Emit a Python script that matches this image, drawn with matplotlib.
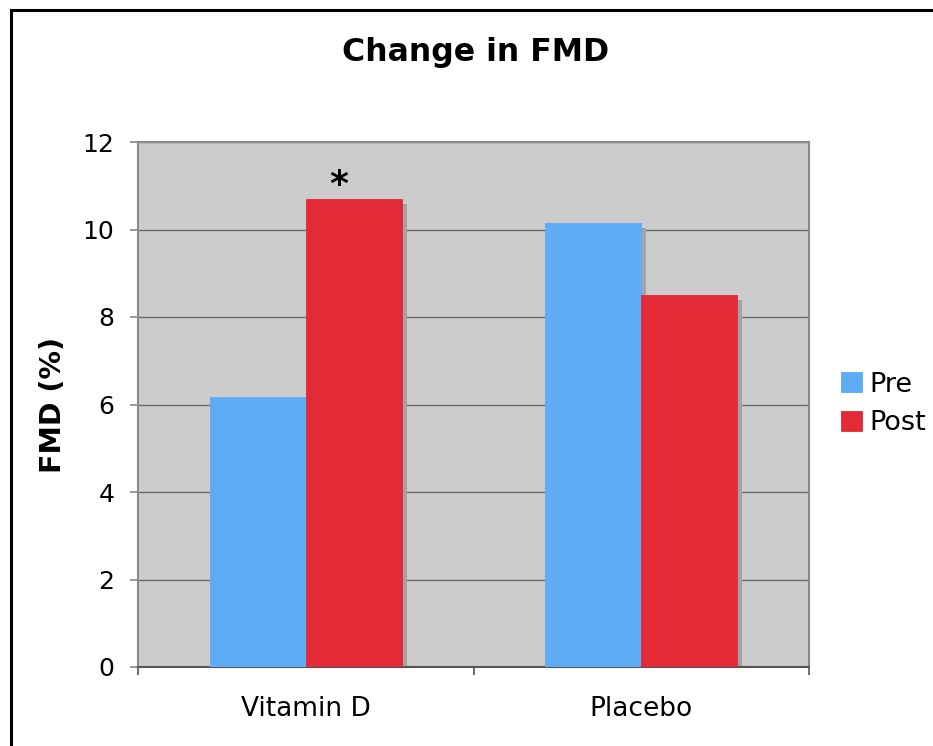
import matplotlib
matplotlib.use("Agg")
import matplotlib.pyplot as plt
from matplotlib.patches import Rectangle
import numpy as np

categories = ["Vitamin D", "Placebo"]
series_names = ["Pre", "Post"]
pre_values = [6.18, 10.16]
post_values = [10.69, 8.50]
y_ticks = [0, 2, 4, 6, 8, 10, 12]

blue = "#5eabf6"
red = "#e32a37"

W, H = 933, 746
fig = plt.figure(figsize=(W / 100, H / 100), dpi=100)
ax = fig.add_axes([138 / W, 1 - 667 / H, (809 - 138) / W, (667 - 142) / H])
ax.set_facecolor("#cccccc")

x = np.arange(len(categories))
bw = 0.286
# shadow offsets in data units
sx = 5 / 335.5
sy = 5 / 43.75

for vals, offs in [(pre_values, -bw / 2), (post_values, bw / 2)]:
    ax.bar(x + offs + sx, np.array(vals) - sy, width=bw, color="#a3a3a3", zorder=2, linewidth=0)
for vals, offs, col, name in [(pre_values, -bw / 2, blue, series_names[0]),
                              (post_values, bw / 2, red, series_names[1])]:
    ax.bar(x + offs, vals, width=bw, color=col, zorder=3, label=name,
           edgecolor=col, linewidth=0.6)

ax.set_xlim(-0.5, 1.5)
ax.set_ylim(0, 12)
ax.set_yticks(y_ticks)
ax.set_yticklabels([str(v) for v in y_ticks])
ax.yaxis.grid(True, color="#6a6a6a", linewidth=1.0, zorder=1)
ax.set_axisbelow(True)

ax.set_xticks(x)
ax.set_xticklabels(categories)
ax.set_xticks([-0.5, 0.5, 1.5], minor=True)
ax.tick_params(axis="x", which="major", length=0, pad=21, labelsize=19)
ax.tick_params(axis="x", which="minor", length=6, width=1.2, color="#555555", direction="out")
ax.tick_params(axis="y", which="major", length=6, width=1.2, color="#888888", pad=11, labelsize=18)

for side in ["top", "right", "left"]:
    ax.spines[side].set_color("#8a8a8a")
    ax.spines[side].set_linewidth(1.5)
ax.spines["bottom"].set_color("#555555")
ax.spines["bottom"].set_linewidth(1.5)

ax.set_ylabel("FMD (%)", fontsize=20.5, fontweight="bold")
ax.yaxis.set_label_coords((67 - 138) / 671, 0.5)

ax.text(0.099, 11.02, "*", fontsize=26, fontweight="bold", ha="center", va="center", zorder=4)

fig.text(476 / W, 1 - 53 / H, "Change in FMD", fontsize=22.7, fontweight="bold",
         ha="center", va="center")

leg = ax.legend(loc="center left", bbox_to_anchor=(841 / W, 1 - 404 / H),
                bbox_transform=fig.transFigure, frameon=False, fontsize=19.5,
                handlelength=0.77, handleheight=0.77, handletextpad=0.26,
                labelspacing=0.48, borderaxespad=0, borderpad=0)

fig.patches.append(Rectangle((10.5 / W, -0.05), 1.2, 1 - 10.0 / H + 0.05,
                             transform=fig.transFigure, fill=False,
                             edgecolor="black", linewidth=2.2, zorder=10))

fig.savefig("out.png", dpi=100)
